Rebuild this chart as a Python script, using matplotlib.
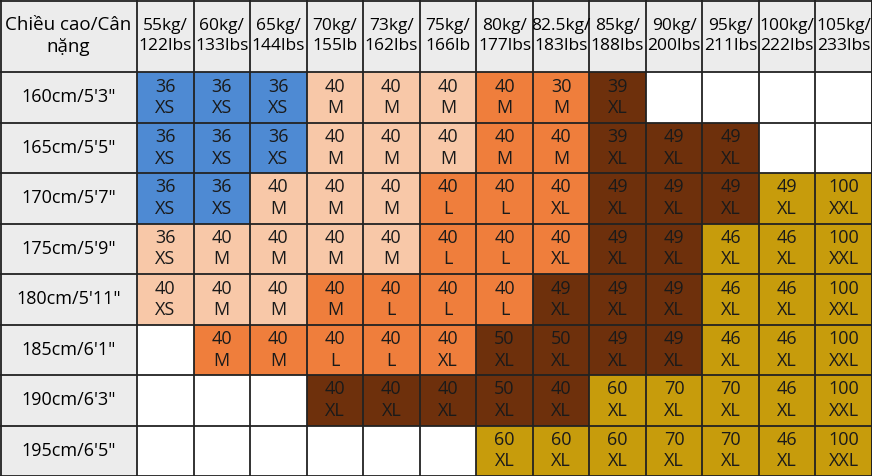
import matplotlib
matplotlib.use("Agg")
import matplotlib.pyplot as plt
from matplotlib.patches import Rectangle

weights = ["55kg/\n122lbs","60kg/\n133lbs","65kg/\n144lbs","70kg/\n155lb","73kg/\n162lbs","75kg/\n166lb",
           "80kg/\n177lbs","82.5kg/\n183lbs","85kg/\n188lbs","90kg/\n200lbs","95kg/\n211lbs","100kg/\n222lbs","105kg/\n233lbs"]
heights = ["160cm/5'3\"","165cm/5'5\"","170cm/5'7\"","175cm/5'9\"","180cm/5'11\"","185cm/6'1\"","190cm/6'3\"","195cm/6'5\""]
header = "Chiều cao/Cân\nnặng"

# cell codes: "value size color" ; "" = empty
r160 = ["36 XS b","36 XS b","36 XS b","40 M p","40 M p","40 M p","40 M o","30 M o","39 XL d","","","",""]
r165 = ["36 XS b","36 XS b","36 XS b","40 M p","40 M p","40 M p","40 M o","40 M o","39 XL d","49 XL d","49 XL d","",""]
r170 = ["36 XS b","36 XS b","40 M p","40 M p","40 M p","40 L o","40 L o","40 XL o","49 XL d","49 XL d","49 XL d","49 XL g","100 XXL g"]
r175 = ["36 XS p","40 M p","40 M p","40 M p","40 M p","40 L o","40 L o","40 XL o","49 XL d","49 XL d","46 XL g","46 XL g","100 XXL g"]
r180 = ["40 XS p","40 M p","40 M p","40 M o","40 L o","40 L o","40 L o","49 XL d","49 XL d","49 XL d","46 XL g","46 XL g","100 XXL g"]
r185 = ["","40 M o","40 M o","40 L o","40 L o","40 XL o","50 XL d","50 XL d","49 XL d","49 XL d","46 XL g","46 XL g","100 XXL g"]
r190 = ["","","","40 XL d","40 XL d","40 XL d","50 XL d","40 XL d","60 XL g","70 XL g","70 XL g","46 XL g","100 XXL g"]
r195 = ["","","","","","","60 XL g","60 XL g","60 XL g","70 XL g","70 XL g","46 XL g","100 XXL g"]
rows = [r160, r165, r170, r175, r180, r185, r190, r195]

colors = {"b": "#4e8ad3", "p": "#f8c8a8", "o": "#ef7e3c", "d": "#6e300c", "g": "#c79c0c"}

W, H = 872, 476
fig = plt.figure(figsize=(W/100, H/100), dpi=100)
ax = fig.add_axes([0, 0, 1, 1])
ax.set_xlim(0, W); ax.set_ylim(H, 0); ax.axis("off")

x0, cw = 137, (W - 137) / 13
hh = 72
rh = (H - hh) / 8
fam = ["Open Sans", "DejaVu Sans"]

ax.add_patch(Rectangle((0, 0), W, hh, fc="#ececec", ec="none"))
ax.add_patch(Rectangle((0, 0), x0, H, fc="#ececec", ec="none"))
ax.text(x0/2, hh/2, header, ha="center", va="center", fontsize=13.5, family=fam, linespacing=1.3)
for j, w in enumerate(weights):
    ax.text(x0 + cw*(j+0.5), hh/2, w, ha="center", va="center", fontsize=12.5, family=fam, linespacing=1.3)
for i, h in enumerate(heights):
    y = hh + rh*i
    ax.text(x0/2, y + rh/2, h, ha="center", va="center", fontsize=13, family=fam)
    for j, c in enumerate(rows[i]):
        x = x0 + cw*j
        if c:
            v, s, k = c.split()
            ax.add_patch(Rectangle((x, y), cw, rh, fc=colors[k], ec="none"))
            ax.text(x + cw/2, y + rh/2, f"{v}\n{s}", ha="center", va="center", fontsize=13,
                    family=fam, color="#1a1a1a", linespacing=1.25)

lw = 1.3
for j in range(14):
    x = x0 + cw*j
    ax.plot([x, x], [0, H], color="#222222", lw=lw)
ax.plot([0.5, 0.5], [0, H], color="#222222", lw=lw)
ax.plot([W-0.5, W-0.5], [0, H], color="#222222", lw=lw)
for i in range(9):
    y = hh + rh*i
    ax.plot([0, W], [y, y], color="#222222", lw=lw)
ax.plot([0, W], [0.5, 0.5], color="#222222", lw=lw)

fig.savefig("out.png", dpi=100)
